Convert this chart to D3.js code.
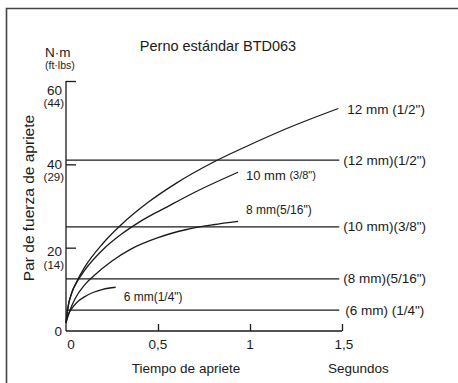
<!DOCTYPE html>
<html>
<head>
<meta charset="utf-8">
<script src="https://cdn.jsdelivr.net/npm/d3@7"></script>
<style>
  html, body { margin: 0; padding: 0; background: #fff; }
  svg { display: block; }
  text { font-family: "Liberation Sans", Arial, Helvetica, sans-serif; fill: #1a1a1a; }
</style>
</head>
<body>
<svg id="chart" width="458" height="383"></svg>
<script>
// Tightening torque (N·m) vs. tightening time (s) for BTD063 standard bolts
const curveNames = ["12 mm", "10 mm", "8 mm", "6 mm"];

const time12 = [0, 0.01, 0.03, 0.06, 0.1, 0.2, 0.3, 0.45, 0.6, 0.8, 1.0, 1.2, 1.48];
const torque12 = [2, 5.5, 9, 12, 15.2, 21, 25.5, 31, 35.5, 40.5, 44.7, 48.6, 53.4];

const time10 = [0, 0.01, 0.03, 0.06, 0.1, 0.2, 0.3, 0.4, 0.55, 0.7, 0.935];
const torque10 = [2, 5.5, 9, 11.8, 14.5, 19.5, 23.2, 26.2, 29.8, 33.3, 38.1];

const time8 = [0, 0.02, 0.05, 0.1, 0.15, 0.25, 0.35, 0.5, 0.65, 0.8, 0.935];
const torque8 = [2, 4.8, 7.8, 11, 13.2, 16.8, 19.6, 22.4, 24.3, 25.5, 26.3];

const time6 = [0, 0.01, 0.03, 0.06, 0.1, 0.15, 0.2, 0.27];
const torque6 = [2, 3.6, 5.3, 6.9, 8.2, 9.3, 10, 10.5];

// Specified tightening torque for each bolt size
const specTorque = [41, 25, 12.5, 5];
const specLabels = ['(12 mm)(1/2")', '(10 mm)(3/8")', '(8 mm)(5/16")', '(6 mm) (1/4")'];

const yTicks = [0, 20, 40, 60];
const yTickLabels = ["0", "20", "40", "60"];
const yTickImperial = ["", "(14)", "(29)", "(44)"];
const xTicks = [0, 0.5, 1, 1.5];
const xTickLabels = ["0", "0,5", "1", "1,5"];

const svg = d3.select("#chart");

// Outer frame (top and left edges)
svg.append("path")
  .attr("d", "M6.5,383 V8.5 H458")
  .attr("fill", "none").attr("stroke", "#444").attr("stroke-width", 1.6);

const x = d3.scaleLinear().domain([0, 1.5]).range([66, 342]);
const y = d3.scaleLinear().domain([0, 60]).range([331, 81]);

const ink = "#1a1a1a";

// Y axis
const yAxis = d3.axisRight(y).tickValues(yTicks.slice(1)).tickSize(10).tickFormat("");
const gy = svg.append("g").attr("transform", `translate(${x(0)},0)`).call(yAxis);
gy.select(".domain").attr("d", `M0,${y(0)}V${y(60)}`);
gy.selectAll("line, path").attr("stroke", ink).attr("stroke-width", 1.3);

// Y tick labels (metric + imperial)
const yLabelShift = [0, 4, 0, 9];
yTicks.forEach((v, i) => {
  svg.append("text")
    .attr("x", 62).attr("y", y(v) + yLabelShift[i])
    .attr("text-anchor", "end").attr("dominant-baseline", "central")
    .attr("font-size", 13.5).text(yTickLabels[i]);
  if (yTickImperial[i]) {
    svg.append("text")
      .attr("x", 64).attr("y", y(v) + yLabelShift[i] + 13)
      .attr("text-anchor", "end").attr("dominant-baseline", "central")
      .attr("font-size", 11.5).text(yTickImperial[i]);
  }
});

// X axis
const xAxis = d3.axisTop(x).tickValues(xTicks.slice(1)).tickSize(7).tickFormat("");
const gx = svg.append("g").attr("transform", `translate(0,${y(0)})`).call(xAxis);
gx.select(".domain").attr("d", `M${x(0)},0H${x(1.5)}`);
gx.selectAll("line, path").attr("stroke", ink).attr("stroke-width", 1.3);

const xLabelShift = [5, 0, 0, 2];
xTicks.forEach((v, i) => {
  svg.append("text")
    .attr("x", x(v) + xLabelShift[i]).attr("y", y(0) + 13)
    .attr("text-anchor", "middle").attr("dominant-baseline", "central")
    .attr("font-size", 13.5).text(xTickLabels[i]);
});

// Specified torque lines
const specEnd = 1.485;
specTorque.forEach((v, i) => {
  svg.append("line")
    .attr("x1", x(0)).attr("x2", x(specEnd))
    .attr("y1", y(v)).attr("y2", y(v))
    .attr("stroke", ink).attr("stroke-width", 1.3);
  svg.append("text")
    .attr("x", x(specEnd) + (i === 3 ? 6 : 4)).attr("y", y(v))
    .attr("dominant-baseline", "central")
    .attr("font-size", 13.5).text(specLabels[i]);
});

// Torque build-up curves
const line = d3.line()
  .x(d => x(d[0])).y(d => y(d[1]))
  .curve(d3.curveMonotoneX);

const series = [
  d3.zip(time12, torque12),
  d3.zip(time10, torque10),
  d3.zip(time8, torque8),
  d3.zip(time6, torque6)
];
series.forEach(s => {
  svg.append("path").datum(s)
    .attr("d", line)
    .attr("fill", "none").attr("stroke", ink).attr("stroke-width", 1.3);
});

// Curve labels
function curveLabel(tx, ty, main, sub, subSize, mainSize) {
  const t = svg.append("text").attr("x", tx).attr("y", ty)
    .attr("dominant-baseline", "central").attr("font-size", mainSize);
  t.append("tspan").text(main);
  t.append("tspan").attr("font-size", subSize).text(sub);
}
const last = s => s[s.length - 1];
const e12 = last(series[0]), e10 = last(series[1]), e8 = last(series[2]), e6 = last(series[3]);
curveLabel(x(e12[0]) + 9, y(e12[1]), curveNames[0] + " ", '(1/2")', 13.5, 13.5);
curveLabel(x(e10[0]) + 8, y(e10[1]) + 3, curveNames[1] + " ", '(3/8")', 11, 13);
curveLabel(x(e8[0]) + 8, y(e8[1]) - 11, curveNames[2], '(5/16")', 12, 12);
curveLabel(x(e6[0]) + 8, y(e6[1]) + 10, curveNames[3], '(1/4")', 12, 12);

// Titles
svg.append("text").attr("x", 218).attr("y", 46)
  .attr("text-anchor", "middle").attr("dominant-baseline", "central")
  .attr("font-size", 14.5).text("Perno estándar BTD063");

svg.append("text").attr("x", 45).attr("y", 52)
  .attr("dominant-baseline", "central").attr("font-size", 13.5).text("N·m");
svg.append("text").attr("x", 45).attr("y", 65)
  .attr("dominant-baseline", "central").attr("font-size", 10.5).text("(ft·lbs)");

svg.append("text")
  .attr("transform", "translate(28,198) rotate(-90)")
  .attr("text-anchor", "middle").attr("dominant-baseline", "central")
  .attr("font-size", 15.5).text("Par de fuerza de apriete");

svg.append("text").attr("x", 186).attr("y", 368)
  .attr("text-anchor", "middle").attr("dominant-baseline", "central")
  .attr("font-size", 13.5).text("Tiempo de apriete");
svg.append("text").attr("x", 328).attr("y", 368)
  .attr("dominant-baseline", "central")
  .attr("font-size", 13.5).text("Segundos");
</script>
</body>
</html>
